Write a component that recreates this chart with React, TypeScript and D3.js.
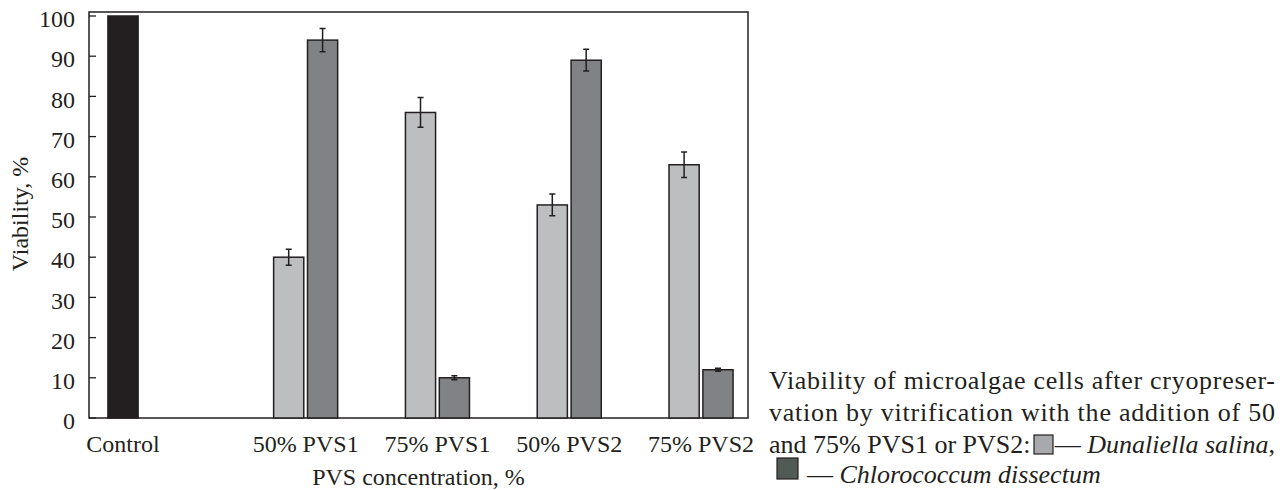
import React, { useEffect, useRef } from "react";
import * as d3 from "d3";

const categories = ["Control", "50% PVS1", "75% PVS1", "50% PVS2", "75% PVS2"];
const controlValues = [100, null, null, null, null];
const salinaValues = [null, 40, 76, 53, 63];
const salinaErrors = [null, 2, 3.7, 2.7, 3.2];
const dissectumValues = [null, 94, 10, 89, 12];
const dissectumErrors = [null, 2.9, 0.5, 2.7, 0.4];
const yTicks = [0, 10, 20, 30, 40, 50, 60, 70, 80, 90, 100];

const captionLines = [
  "Viability of microalgae cells after cryopreser-",
  "vation by vitrification with the addition of 50",
];

const INK = "#231f20";
const FONT = "'Liberation Serif', 'Times New Roman', serif";

function App() {
  const svgRef = useRef(null);

  useEffect(() => {
    const svg = d3.select(svgRef.current);
    svg.selectAll("*").remove();

    const left = 89;
    const right = 748;
    const top = 12;
    const bottom = 418;

    const y = d3.scaleLinear().domain([0, 100]).range([bottom, 16]);
    const x0 = d3.scaleBand().domain(categories).range([left, right]);
    // three slots per category, nudged a little to the right like the original
    const x1 = d3
      .scaleBand()
      .domain(["control", "salina", "dissectum"])
      .range([2, x0.bandwidth() + 2])
      .paddingInner(0.11)
      .paddingOuter(0.5);

    const series = [
      { key: "control", values: controlValues, errors: null, fill: INK },
      { key: "salina", values: salinaValues, errors: salinaErrors, fill: "#bcbec0" },
      { key: "dissectum", values: dissectumValues, errors: dissectumErrors, fill: "#808285" },
    ];

    // frame
    svg
      .append("rect")
      .attr("x", left)
      .attr("y", top)
      .attr("width", right - left)
      .attr("height", bottom - top)
      .attr("fill", "none")
      .attr("stroke", INK)
      .attr("stroke-width", 1.5);

    // y ticks (inside) and labels
    const yAxis = svg.append("g");
    yAxis
      .selectAll("line")
      .data(yTicks)
      .enter()
      .append("line")
      .attr("x1", left)
      .attr("x2", left + 7)
      .attr("y1", (d) => y(d))
      .attr("y2", (d) => y(d))
      .attr("stroke", INK)
      .attr("stroke-width", 1.3);
    yAxis
      .selectAll("text")
      .data(yTicks)
      .enter()
      .append("text")
      .attr("x", 75)
      .attr("y", (d) => y(d))
      .attr("dy", "0.47em")
      .attr("text-anchor", "end")
      .style("font-family", FONT)
      .style("font-size", "24px")
      .attr("fill", INK)
      .text((d) => d);

    svg
      .append("text")
      .attr("transform", `translate(28,214) rotate(-90)`)
      .attr("text-anchor", "middle")
      .style("font-family", FONT)
      .style("font-size", "24px")
      .attr("fill", INK)
      .text("Viability, %");

    // bars
    series.forEach((s) => {
      const g = svg.append("g");
      const rows = categories
        .map((c, i) => ({ c, v: s.values[i], e: s.errors ? s.errors[i] : null }))
        .filter((d) => d.v !== null);

      g.selectAll("rect")
        .data(rows)
        .enter()
        .append("rect")
        .attr("x", (d) => x0(d.c) + x1(s.key))
        .attr("y", (d) => y(d.v))
        .attr("width", x1.bandwidth())
        .attr("height", (d) => bottom - y(d.v))
        .attr("fill", s.fill)
        .attr("stroke", INK)
        .attr("stroke-width", 1.5);

      const eb = rows.filter((d) => d.e !== null);
      const cx = (d) => x0(d.c) + x1(s.key) + x1.bandwidth() / 2;
      g.selectAll(".err")
        .data(eb)
        .enter()
        .append("path")
        .attr("class", "err")
        .attr(
          "d",
          (d) =>
            `M${cx(d)},${y(d.v + d.e)}V${y(d.v - d.e)}` +
            `M${cx(d) - 3},${y(d.v + d.e)}H${cx(d) + 3}` +
            `M${cx(d) - 3},${y(d.v - d.e)}H${cx(d) + 3}`
        )
        .attr("fill", "none")
        .attr("stroke", INK)
        .attr("stroke-width", 1.5);
    });

    // category labels centred under the bars that exist
    svg
      .append("g")
      .selectAll("text")
      .data(categories)
      .enter()
      .append("text")
      .attr("x", (c, i) => {
        const keys = series.filter((s) => s.values[i] !== null).map((s) => s.key);
        return x0(c) + d3.mean(keys, (k) => x1(k) + x1.bandwidth() / 2);
      })
      .attr("y", 452)
      .attr("text-anchor", "middle")
      .style("font-family", FONT)
      .style("font-size", "24px")
      .attr("fill", INK)
      .text((d) => d);

    svg
      .append("text")
      .attr("x", (left + right) / 2)
      .attr("y", 485)
      .attr("text-anchor", "middle")
      .style("font-family", FONT)
      .style("font-size", "24px")
      .attr("fill", INK)
      .text("PVS concentration, %");

    // caption
    const capX = 769;
    const capW = 506;
    const baselines = [389, 421, 453, 483];
    const cap = svg
      .append("g")
      .style("font-family", FONT)
      .style("font-size", "26px")
      .attr("fill", INK);

    captionLines.forEach((line, i) => {
      cap
        .append("text")
        .attr("x", capX)
        .attr("y", baselines[i])
        .attr("textLength", capW)
        .attr("lengthAdjust", "spacing")
        .text(line);
    });

    cap
      .append("text")
      .attr("x", capX)
      .attr("y", baselines[2])
      .text("and 75% PVS1 or PVS2:");
    cap
      .append("rect")
      .attr("x", 1034)
      .attr("y", baselines[2] - 18)
      .attr("width", 19)
      .attr("height", 19)
      .attr("fill", "#a7a9ac")
      .attr("stroke", INK)
      .attr("stroke-width", 1.2);
    const l3 = cap
      .append("text")
      .attr("x", capX + capW)
      .attr("y", baselines[2])
      .attr("text-anchor", "end");
    l3.append("tspan").text("— ");
    l3.append("tspan").style("font-style", "italic").text("Dunaliella salina");
    l3.append("tspan").text(",");

    cap
      .append("rect")
      .attr("x", 777)
      .attr("y", baselines[3] - 25)
      .attr("width", 21)
      .attr("height", 21)
      .attr("fill", "#525a55")
      .attr("stroke", INK)
      .attr("stroke-width", 1.2);
    const l4 = cap.append("text").attr("x", 807).attr("y", baselines[3]);
    l4.append("tspan").text("— ");
    l4.append("tspan").style("font-style", "italic").text("Chlorococcum dissectum");
  }, []);

  return (
    <svg
      ref={svgRef}
      width={1284}
      height={490}
      style={{ position: "absolute", left: 0, top: 0, background: "#fff" }}
    ></svg>
  );
}

export default App;
